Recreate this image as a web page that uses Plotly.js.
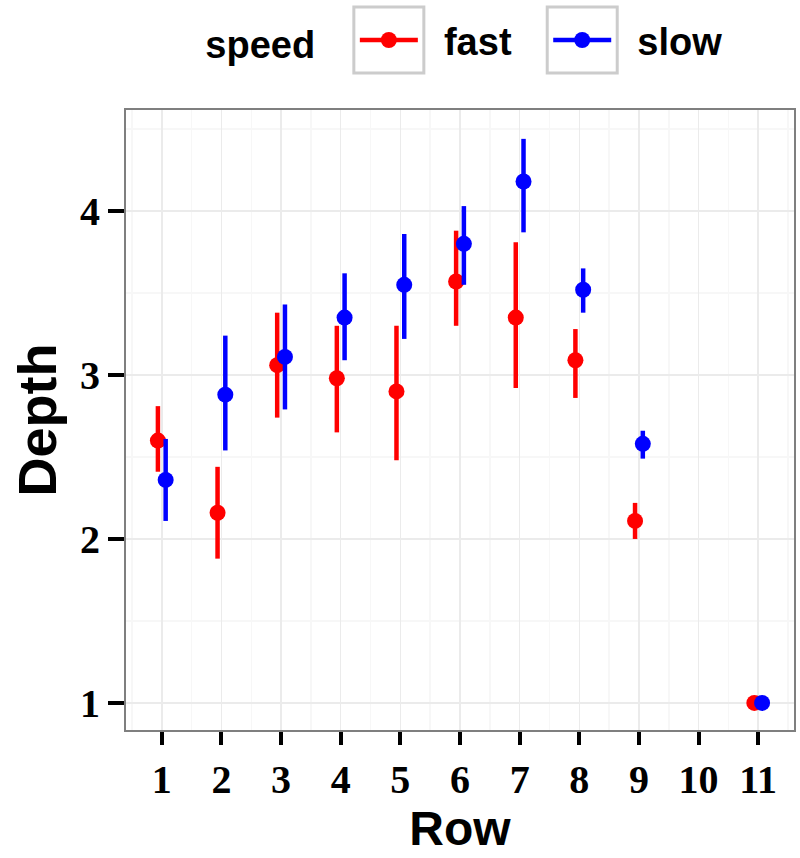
<!DOCTYPE html>
<html>
<head>
<meta charset="utf-8">
<script src="https://cdn.plot.ly/plotly-3.0.1.min.js"></script>
<style>
  html, body { margin: 0; padding: 0; background: #fff; }
  #plot { width: 800px; height: 858px; }
</style>
</head>
<body>
<div id="plot"></div>
<script>
var rows = [1, 2, 3, 4, 5, 6, 7, 8, 9, 10, 11];

// fast: mean and interval ends
var fast_mean  = [2.60, 2.16, 3.06, 2.98, 2.90, 3.57, 3.35, 3.09, 2.11, null, 1.00];
var fast_lower = [2.41, 1.88, 2.74, 2.65, 2.48, 3.30, 2.92, 2.86, 2.00, null, 1.00];
var fast_upper = [2.81, 2.44, 3.38, 3.30, 3.30, 3.88, 3.81, 3.28, 2.22, null, 1.00];

// slow
var slow_mean  = [2.36, 2.88, 3.11, 3.35, 3.55, 3.80, 4.18, 3.52, 2.58, null, 1.00];
var slow_lower = [2.11, 2.54, 2.79, 3.09, 3.22, 3.55, 3.87, 3.38, 2.49, null, 1.00];
var slow_upper = [2.61, 3.24, 3.43, 3.62, 3.86, 4.03, 4.44, 3.65, 2.66, null, 1.00];

function plus(m, u) { return m.map(function (v, i) { return v == null ? null : u[i] - v; }); }
function minus(m, l) { return m.map(function (v, i) { return v == null ? null : v - l[i]; }); }

var dodge = 0.065;
var nb = '\u00a0';

function series(name, color, mean, lower, upper, shift) {
  return {
    type: 'scatter',
    mode: 'markers',
    name: name,
    showlegend: false,
    x: rows.map(function (r) { return r + shift; }),
    y: mean,
    marker: { color: color, size: 16 },
    error_y: {
      type: 'data',
      symmetric: false,
      array: plus(mean, upper),
      arrayminus: minus(mean, lower),
      color: color,
      thickness: 4.5,
      width: 0
    },
    hoverinfo: 'x+y'
  };
}

// legend-only entries so the key shows line + point like the original
function key(name, color, after) {
  return {
    type: 'scatter', mode: 'lines+markers', name: nb + nb + name + after,
    x: [null], y: [null],
    line: { color: color, width: 4.5 },
    marker: { color: color, size: 16 }
  };
}

var data = [
  series('fast', '#FF0000', fast_mean, fast_lower, fast_upper, -dodge),
  series('slow', '#0000FF', slow_mean, slow_lower, slow_upper, dodge),
  key('fast', '#FF0000', nb + nb + nb),
  key('slow', '#0000FF', '')
];

var sans = 'Liberation Sans, Arial, sans-serif';
var serif = 'Liberation Serif, Times New Roman, serif';

var layout = {
  width: 800,
  height: 858,
  margin: { l: 126, r: 6, t: 110, b: 128 },
  paper_bgcolor: '#FFFFFF',
  plot_bgcolor: '#FFFFFF',
  showlegend: true,
  legend: {
    orientation: 'h',
    x: 0.508, xanchor: 'center',
    y: 0.953, yanchor: 'middle',
    yref: 'container',
    bgcolor: 'rgba(0,0,0,0)',
    font: { family: sans, size: 38, color: '#000', weight: 'bold' },
    title: { text: 'speed' + nb + nb + nb, side: 'left', font: { family: sans, size: 38, color: '#000', weight: 'bold' } },
    itemwidth: 58,
    tracegroupgap: 0
  },
  xaxis: {
    range: [0.4, 11.6],
    tickmode: 'array',
    tickvals: rows,
    ticktext: rows.map(String),
    showgrid: true,
    gridcolor: '#EBEBEB',
    gridwidth: 1.5,
    minor: { tick0: 0.5, dtick: 1, showgrid: true, gridcolor: '#F7F7F7', gridwidth: 1.5, ticks: '' },
    zeroline: false,
    showline: true,
    mirror: true,
    linecolor: '#7F7F7F',
    linewidth: 2,
    ticks: 'outside',
    ticklen: 13,
    tickwidth: 4,
    tickcolor: '#000',
    tickfont: { family: serif, size: 40, color: '#000', weight: 'bold' },
    title: { text: 'Row', standoff: 6, font: { family: sans, size: 48, color: '#000', weight: 'bold' } }
  },
  yaxis: {
    range: [0.835, 4.616],
    tickmode: 'array',
    tickvals: [1, 2, 3, 4],
    showgrid: true,
    gridcolor: '#EBEBEB',
    gridwidth: 1.5,
    minor: { tick0: 0.5, dtick: 1, showgrid: true, gridcolor: '#F7F7F7', gridwidth: 1.5, ticks: '' },
    zeroline: false,
    showline: true,
    mirror: true,
    linecolor: '#7F7F7F',
    linewidth: 2,
    ticks: 'outside',
    ticklen: 16,
    tickwidth: 4,
    tickcolor: '#000',
    tickfont: { family: serif, size: 40, color: '#000', weight: 'bold' },
    title: { text: 'Depth', standoff: 6, font: { family: sans, size: 54, color: '#000', weight: 'bold' } }
  }
};

// grey frame around each legend key, placed from where Plotly drew the key
Plotly.newPlot('plot', data, layout, { displayModeBar: false, staticPlot: true }).then(function (gd) {
  var sz = gd._fullLayout._size;
  var box = gd.getBoundingClientRect();
  var shapes = [];
  gd.querySelectorAll('.legend .traces .legendsymbols').forEach(function (el) {
    var r = el.getBoundingClientRect();
    var cx = r.left + r.width / 2 - box.left;
    var cy = r.top + r.height / 2 - box.top;
    shapes.push({
      type: 'rect', xref: 'paper', yref: 'paper',
      x0: (cx - 35 - sz.l) / sz.w, x1: (cx + 35 - sz.l) / sz.w,
      y0: (sz.t + sz.h - (cy + 33)) / sz.h, y1: (sz.t + sz.h - (cy - 33)) / sz.h,
      line: { color: '#CCCCCC', width: 3 }
    });
  });
  return Plotly.relayout(gd, { shapes: shapes });
});
</script>
</body>
</html>
